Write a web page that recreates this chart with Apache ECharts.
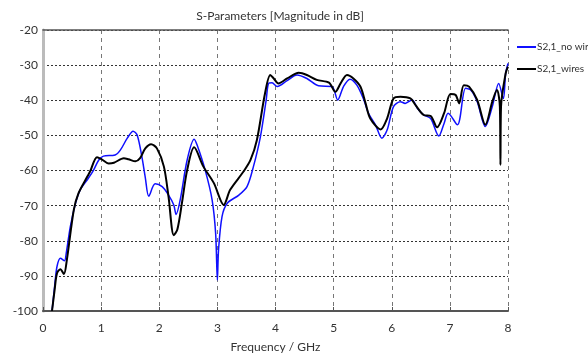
<!DOCTYPE html>
<html><head><meta charset="utf-8">
<script src="https://cdn.jsdelivr.net/npm/echarts@6/dist/echarts.min.js"></script>
<style>html,body{margin:0;padding:0;background:#fff}#c{width:588px;height:363px}</style>
</head><body><div id="c"></div>
<script>
const xTicks = [0,1,2,3,4,5,6,7,8];
const yTicks = [-100,-90,-80,-70,-60,-50,-40,-30,-20];
const seriesNames = ['S2,1_no wires','S2,1_wires'];
const noWiresF = [0.155,0.20,0.24,0.30,0.37,0.40,0.47,0.56,0.64,0.78,0.87,0.96,1.04,1.24,1.33,1.45,1.55,1.62,1.70,1.76,1.82,1.93,2.05,2.16,2.25,2.29,2.36,2.48,2.60,2.65,2.79,2.91,2.97,3.00,3.02,3.08,3.17,3.37,3.51,3.62,3.74,3.84,3.88,3.94,4.03,4.20,4.37,4.54,4.74,4.97,5.07,5.17,5.28,5.40,5.52,5.60,5.72,5.83,5.92,6.03,6.15,6.23,6.35,6.44,6.55,6.67,6.81,6.90,6.97,7.13,7.27,7.36,7.47,7.61,7.73,7.84,7.92,7.96,8.0];
const noWiresDb = [-100,-93,-87.4,-85,-85.7,-83.5,-76,-69.3,-65.5,-62.2,-59.9,-57,-55.9,-55.6,-54.2,-50.8,-48.8,-49.9,-56,-62,-67.3,-63.8,-64.6,-67,-69.8,-72.5,-68.4,-57,-51.1,-52.7,-59.9,-68.4,-77.9,-91.2,-82.6,-73.1,-69.3,-67,-64.6,-58.9,-50.4,-39.9,-35.2,-35,-36.1,-34.4,-32.8,-33.8,-35.9,-36.1,-39.9,-36.1,-34,-35.7,-39.9,-43.7,-47,-50.8,-48.5,-41.8,-40.4,-40.9,-39.9,-42.3,-44.2,-45.2,-50.2,-46.6,-43.7,-47,-36.6,-37.1,-40.4,-47.5,-41.8,-35.2,-39.5,-32.3,-29.5];
const wiresF = [0.155,0.20,0.24,0.30,0.36,0.41,0.53,0.61,0.76,0.81,0.93,1.01,1.13,1.22,1.39,1.47,1.59,1.67,1.76,1.86,1.96,2.08,2.16,2.25,2.31,2.39,2.48,2.60,2.76,2.94,3.11,3.22,3.45,3.57,3.68,3.82,3.91,3.97,4.05,4.20,4.40,4.54,4.71,4.92,5.03,5.12,5.23,5.34,5.46,5.55,5.63,5.81,5.92,6.03,6.15,6.32,6.41,6.55,6.67,6.78,6.90,7.01,7.10,7.16,7.24,7.33,7.47,7.61,7.73,7.81,7.86,7.87,7.88,7.96,8.0];
const wiresDb = [-100,-94,-89.3,-88.1,-89.5,-85.5,-71.2,-66.5,-61.8,-60.3,-56.2,-56.8,-58,-57.8,-56.5,-56.8,-57.4,-56.5,-53.7,-52.5,-53.7,-58.9,-67.5,-78.4,-76.9,-69.3,-59.9,-53.4,-58.9,-63.6,-69.8,-65.5,-60.3,-57,-51.3,-38,-32.8,-33.8,-35.2,-33.8,-32.2,-32.8,-34.2,-35,-37.6,-35.2,-32.8,-33.8,-36.1,-40.9,-45.2,-48.3,-45.2,-39.5,-39,-39.5,-41.4,-44.2,-44.5,-47.7,-43.7,-38.2,-38.5,-40.9,-35.7,-36.1,-39.9,-47,-40.4,-37.1,-41.8,-58.4,-41.8,-32.3,-30.4];

const FONT = 'Lato, "DejaVu Sans Condensed", sans-serif';
const chart = echarts.init(document.getElementById('c'), null, {renderer:'canvas'});
chart.setOption({
  animation:false,
  backgroundColor:'#fff',
  title:{text:'S-Parameters [Magnitude in dB]',left:275,textAlign:'center',top:5,
    textStyle:{fontFamily:FONT,fontSize:12,fontWeight:'normal',color:'#333'}},
  legend:{orient:'vertical',left:512,top:37,itemGap:12,itemWidth:19,itemHeight:2,
    icon:'rect',textStyle:{fontFamily:FONT,fontSize:10,color:'#333',padding:[0,0,0,-4]},
    data:seriesNames},
  grid:{left:43,right:80,top:30,bottom:52,containLabel:false,outerBoundsMode:'none'},
  xAxis:[{type:'value',min:0,max:8,interval:1,
    name:'Frequency / GHz',nameLocation:'middle',nameGap:30,
    nameTextStyle:{fontFamily:FONT,fontSize:12,color:'#333'},
    axisLine:{lineStyle:{color:'#555',width:2}},
    axisTick:{show:true,inside:true,length:4,lineStyle:{color:'#555'}},
    axisLabel:{fontFamily:FONT,fontSize:12,color:'#333',margin:11},
    splitLine:{show:true,lineStyle:{color:'#777',type:[4,4],width:1}}},
   {type:'value',position:'top',min:0,max:8,interval:1,
    axisLine:{show:true,lineStyle:{color:'#555',width:1.5}},
    axisTick:{show:false},axisLabel:{show:false},splitLine:{show:false}}],
  yAxis:[{type:'value',min:-100,max:-20,interval:10,
    name:'dB',nameLocation:'middle',nameGap:31,nameRotate:90,
    nameTextStyle:{fontFamily:FONT,fontSize:12,color:'#333'},
    axisLine:{show:true,lineStyle:{color:'#888',width:1.5}},
    axisTick:{show:false},
    axisLabel:{fontFamily:FONT,fontSize:12,color:'#333',margin:5},
    splitLine:{show:true,lineStyle:{color:'#333',type:[2,2],width:1}}},
   {type:'value',position:'right',min:-100,max:-20,interval:10,
    axisLine:{show:true,lineStyle:{color:'#bbb',width:3}},
    axisTick:{show:false},axisLabel:{show:false},splitLine:{show:false}}],
  series:[
    {name:seriesNames[0],type:'line',showSymbol:false,smooth:0.3,
     color:'#1010ff',lineStyle:{width:1.5,color:'#1010ff'},
     data:noWiresF.map((f,i)=>[f,noWiresDb[i]])},
    {name:seriesNames[1],type:'line',showSymbol:false,smooth:0.3,
     color:'#000',lineStyle:{width:2,color:'#000'},
     data:wiresF.map((f,i)=>[f,wiresDb[i]])}
  ]
});
</script></body></html>
